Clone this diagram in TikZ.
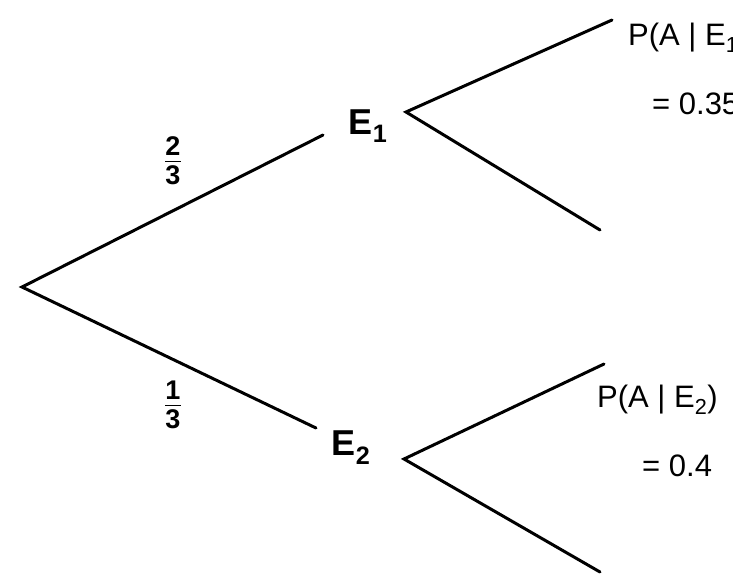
\documentclass[tikz,border=0pt]{standalone}
\usepackage{fontspec}
\setmainfont{Liberation Sans}
\begin{document}
\begin{tikzpicture}[x=1pt,y=-1pt,
  branch/.style={line width=3pt, line cap=round},
  evt/.style={font=\fontsize{36}{38}\selectfont\bfseries, inner sep=0pt},
  prob/.style={font=\fontsize{31}{33}\selectfont, inner sep=0pt, anchor=west},
  frac/.style={font=\fontsize{27}{29}\selectfont\bfseries, inner sep=0pt}]
\useasboundingbox (0,0) rectangle (733,574);
\clip (0,0) rectangle (733,574);
\fill[white] (0,0) rectangle (733,574);
% tree points
\coordinate (r) at (22,287);
\coordinate (e1end) at (323,135);
\coordinate (e2end) at (316,428);
\coordinate (a1) at (406,112);
\coordinate (a1u) at (612,20);
\coordinate (a1d) at (600,230);
\coordinate (a2) at (404,459);
\coordinate (a2u) at (604,364);
\coordinate (a2d) at (600,572);
% branches
\draw[branch] (e1end) -- (r) -- (e2end);
\draw[branch] (a1u) -- (a1) -- (a1d);
\draw[branch] (a2u) -- (a2) -- (a2d);
% labels
\node[evt] (E1) at (368,126) {E\textsubscript{1}};
\node[evt] (E2) at (351,448) {E\textsubscript{2}};
\node[frac] (f1) at (173,164) {\begin{tabular}{@{}c@{}}2\\[-3pt]\hline\\[-27pt]3\end{tabular}};
\node[frac] (f2) at (173,408) {\begin{tabular}{@{}c@{}}1\\[-3pt]\hline\\[-27pt]3\end{tabular}};
\node[prob] (p1) at (628,38) {P(A | E\textsubscript{1})};
\node[prob] (v1) at (652,104) {= 0.35};
\node[prob] (p2) at (597,400) {P(A | E\textsubscript{2})};
\node[prob] (v2) at (642,466) {= 0.4};
\end{tikzpicture}
\end{document}
